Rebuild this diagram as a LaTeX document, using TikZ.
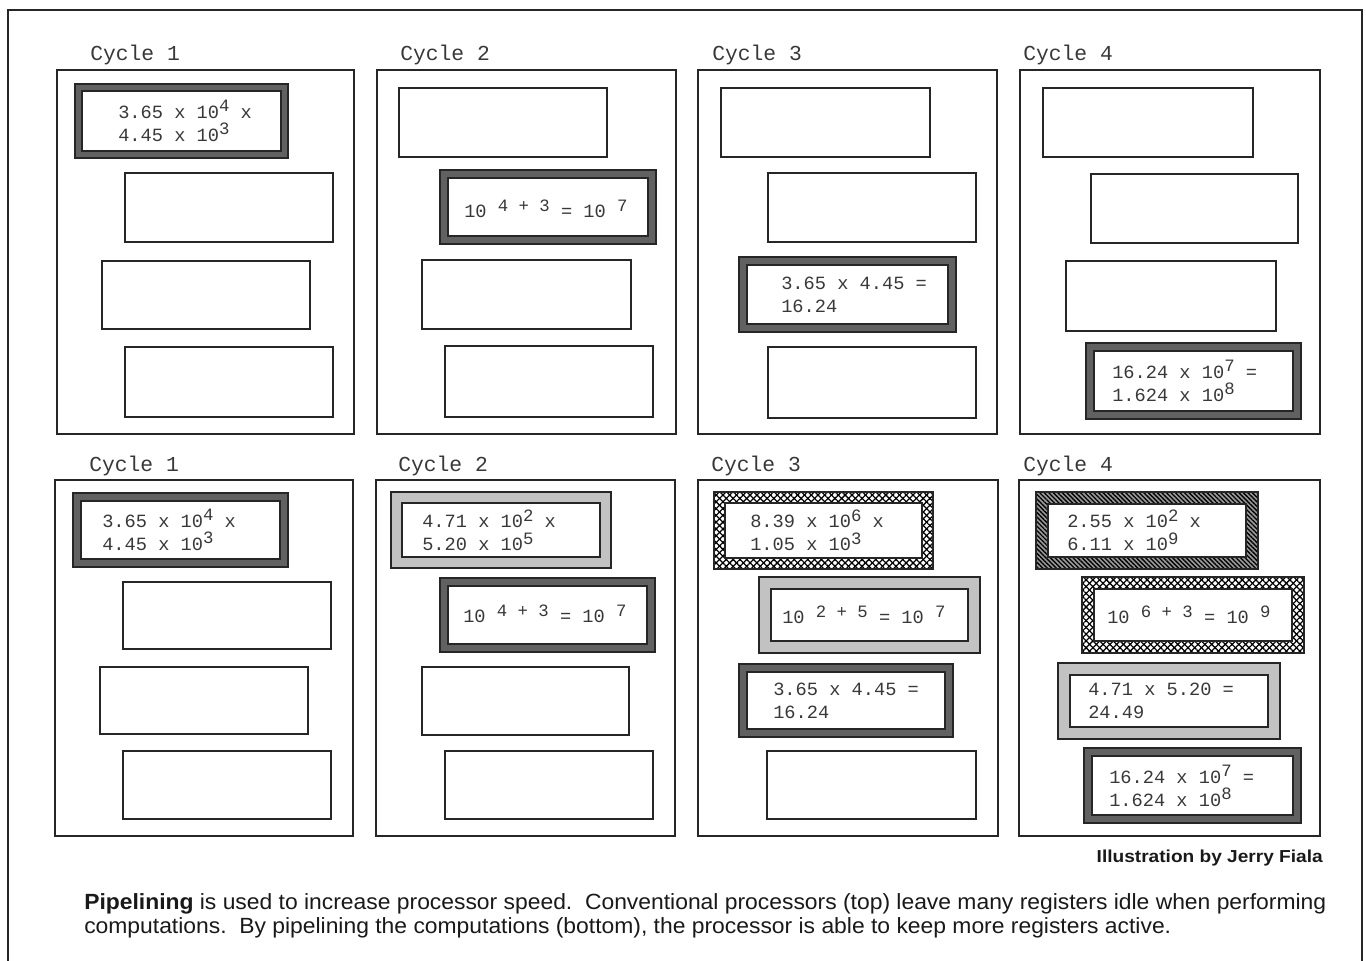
\documentclass[tikz,border=0pt]{standalone}
\usepackage{fontspec}
\usepackage{graphicx}
\setmainfont{Liberation Sans}
\newfontfamily\monof{Liberation Mono}
\usetikzlibrary{patterns.meta}

\tikzset{
  panel/.style={draw=black!85, line width=1.5pt},
  regline/.style={draw=black!85, line width=1.3pt},
  edgeline/.style={draw=black!85, line width=1pt},
  dkframe/.style={fill=black!62},
  ltframe/.style={fill=black!24},
  xframe/.style={pattern={Lines[angle=45,distance=3.6pt,line width=0.95pt]},
    postaction={even odd rule, pattern={Lines[angle=-45,distance=3.6pt,line width=0.95pt]}}},
  hframe/.style={fill=black!40,
    postaction={even odd rule, pattern={Lines[angle=-45,distance=2.4pt,line width=1pt]}}},
  cyc/.style={font=\monof\fontsize{16}{18}\selectfont, text=black!78, anchor=base west, inner sep=0pt},
  regtxt/.style={font=\monof\fontsize{14}{17.25}\selectfont, text=black!78, anchor=west, inner sep=0pt, align=left},
  captxt/.style={anchor=base west, inner sep=0pt, text=black!90, font=\fontsize{16.5}{20}\selectfont},
}

\newcommand{\emptyreg}[4]{\draw[regline] (#1,#2) rectangle (#3,#4);}
\newcommand{\framereg}[6]{%
  \fill[#1,even odd rule] (#2,#3) rectangle (#4,#5) ({#2+#6},{#3+#6}) rectangle ({#4-#6},{#5-#6});
  \draw[edgeline] (#2,#3) rectangle (#4,#5) ({#2+#6},{#3+#6}) rectangle ({#4-#6},{#5-#6});}
\newcommand{\up}[1]{\raisebox{0.65ex}{\fontsize{13}{13}\selectfont #1}}
\newcommand{\capone}{\textbf{Pipelining} is used to increase processor speed.\ \ Conventional processors (top) leave many registers idle when performing}
\newcommand{\captwo}{computations.\ \ By pipelining the computations (bottom), the processor is able to keep more registers active.}
\newsavebox{\capbox}

\begin{document}
\sbox{\capbox}{\fontsize{16.5}{20}\selectfont\capone}%
\pgfmathsetmacro{\capscale}{931.5/\the\wd\capbox}%
\begin{tikzpicture}[x=0.75pt, y=-0.75pt]
\useasboundingbox (0,0) rectangle (1366,960);

% outer frame
\draw[panel] (8,965) -- (8,10) -- (1362,10) -- (1362,965);

% ---------- top row ----------
\node[cyc] (c1t) at (90,60) {Cycle 1};
\node[cyc] (c2t) at (400,60) {Cycle 2};
\node[cyc] (c3t) at (712,60) {Cycle 3};
\node[cyc] (c4t) at (1023,60) {Cycle 4};

\draw[panel] (57,70) rectangle (354,434);
\draw[panel] (377,70) rectangle (676,434);
\draw[panel] (698,70) rectangle (997,434);
\draw[panel] (1020,70) rectangle (1320,434);

% panel 1
\framereg{dkframe}{75}{84}{288}{158}{7}
\node[regtxt] (t11) at (118,121) {3.65 x 10\up{4} x\\4.45 x 10\up{3}};
\emptyreg{125}{173}{333}{242}
\emptyreg{102}{261}{310}{329}
\emptyreg{125}{347}{333}{417}
% panel 2
\emptyreg{399}{88}{607}{157}
\framereg{dkframe}{440}{170}{656}{244}{8}
\node[regtxt] (t22) at (464,209) {10 \up{4 + 3} = 10 \up{7}};
\emptyreg{422}{260}{631}{329}
\emptyreg{445}{346}{653}{417}
% panel 3
\emptyreg{721}{88}{930}{157}
\emptyreg{768}{173}{976}{242}
\framereg{dkframe}{739}{257}{956}{332}{8}
\node[regtxt] (t33) at (781,295) {3.65 x 4.45 =\\16.24};
\emptyreg{768}{347}{976}{418}
% panel 4
\emptyreg{1043}{88}{1253}{157}
\emptyreg{1091}{174}{1298}{243}
\emptyreg{1066}{261}{1276}{331}
\framereg{dkframe}{1086}{343}{1301}{419}{8}
\node[regtxt] (t44) at (1112,381) {16.24 x 10\up{7} =\\1.624 x 10\up{8}};

% ---------- bottom row ----------
\node[cyc] (c1b) at (89,471) {Cycle 1};
\node[cyc] (c2b) at (398,471) {Cycle 2};
\node[cyc] (c3b) at (711,471) {Cycle 3};
\node[cyc] (c4b) at (1023,471) {Cycle 4};

\draw[panel] (55,480) rectangle (353,836);
\draw[panel] (376,480) rectangle (675,836);
\draw[panel] (698,480) rectangle (998,836);
\draw[panel] (1019,480) rectangle (1320,836);

% panel 1
\framereg{dkframe}{73}{493}{288}{567}{8}
\node[regtxt] (b11) at (102,530) {3.65 x 10\up{4} x\\4.45 x 10\up{3}};
\emptyreg{123}{582}{331}{649}
\emptyreg{100}{667}{308}{734}
\emptyreg{123}{751}{331}{819}
% panel 2
\framereg{ltframe}{391}{492}{611}{568}{11}
\node[regtxt] (b21) at (422,530) {4.71 x 10\up{2} x\\5.20 x 10\up{5}};
\framereg{dkframe}{440}{578}{655}{652}{8}
\node[regtxt] (b22) at (463,614) {10 \up{4 + 3} = 10 \up{7}};
\emptyreg{422}{667}{629}{735}
\emptyreg{445}{751}{653}{819}
% panel 3
\framereg{xframe}{714}{492}{933}{569}{11}
\node[regtxt] (b31) at (750,530) {8.39 x 10\up{6} x\\1.05 x 10\up{3}};
\framereg{ltframe}{759}{577}{980}{653}{12}
\node[regtxt] (b32) at (782,615) {10 \up{2 + 5} = 10 \up{7}};
\framereg{dkframe}{739}{664}{953}{737}{8}
\node[regtxt] (b33) at (773,701) {3.65 x 4.45 =\\16.24};
\emptyreg{767}{751}{976}{819}
% panel 4
\framereg{hframe}{1036}{492}{1258}{569}{12}
\node[regtxt] (b41) at (1067,530) {2.55 x 10\up{2} x\\6.11 x 10\up{9}};
\framereg{xframe}{1082}{577}{1304}{653}{12}
\node[regtxt] (b42) at (1107,615) {10 \up{6 + 3} = 10 \up{9}};
\framereg{ltframe}{1058}{663}{1280}{739}{12}
\node[regtxt] (b43) at (1088,701) {4.71 x 5.20 =\\24.49};
\framereg{dkframe}{1084}{748}{1301}{823}{8}
\node[regtxt] (b44) at (1109,786) {16.24 x 10\up{7} =\\1.624 x 10\up{8}};

% ---------- caption ----------
\node[anchor=base east, inner sep=0pt, text=black!90, font=\bfseries\fontsize{13}{15}\selectfont] (credit) at (1323,862)
  {\resizebox{169.5pt}{\height}{Illustration by Jerry Fiala}};
\node[captxt] (cap1) at (84,909) {\scalebox{\capscale}[1]{\capone}};
\node[captxt] (cap2) at (84,933) {\scalebox{\capscale}[1]{\captwo}};
\end{tikzpicture}
\end{document}
